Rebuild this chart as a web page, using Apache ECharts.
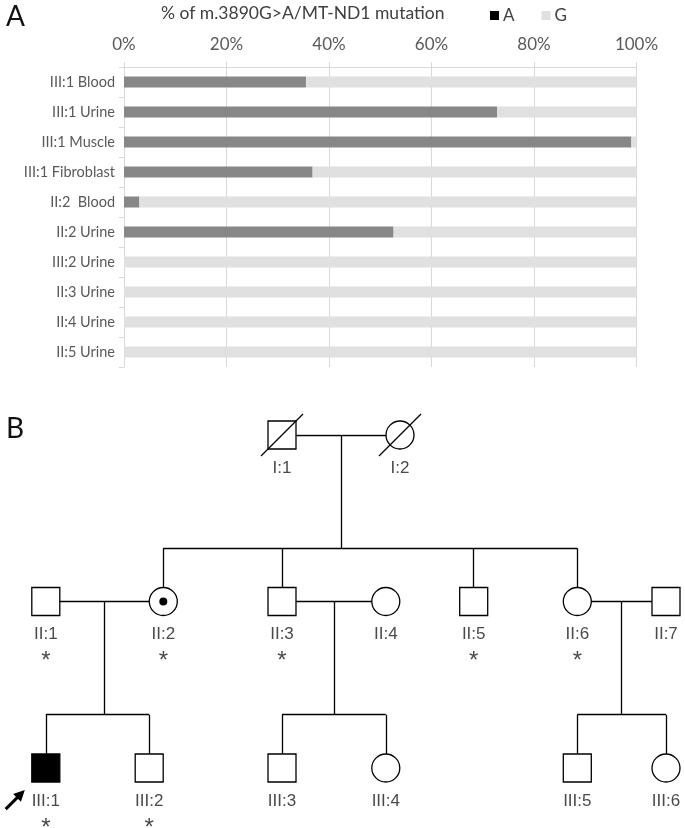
<!DOCTYPE html>
<html>
<head>
<meta charset="utf-8">
<script src="https://cdn.jsdelivr.net/npm/echarts@6/dist/echarts.min.js"></script>
<style>
  html, body { margin: 0; padding: 0; background: #fff; }
  #chart { width: 685px; height: 828px; }
</style>
</head>
<body>
<div id="chart"></div>
<script>
// panel A: heteroplasmy per sample (% of reads)
const categories = ['III:1 Blood', 'III:1 Urine', 'III:1 Muscle', 'III:1 Fibroblast', 'II:2  Blood',
                    'II:2 Urine', 'III:2 Urine', 'II:3 Urine', 'II:4 Urine', 'II:5 Urine']
const alleleA = [35.5, 72.8, 99.0, 36.8, 3.0, 52.6, 0, 0, 0, 0]
const alleleG = [64.5, 27.2, 1.0, 63.2, 97.0, 47.4, 100, 100, 100, 100]

// panel B: pedigree members
const memberIds = ['I:1', 'I:2', 'II:1', 'II:2', 'II:3', 'II:4', 'II:5', 'II:6', 'II:7',
                   'III:1', 'III:2', 'III:3', 'III:4', 'III:5', 'III:6']
const memberX = [282, 400, 45.8, 163.3, 282, 385.8, 473.7, 577.3, 666, 45.8, 149.2, 282, 385.8, 577.3, 666]
const memberGen = [1, 1, 2, 2, 2, 2, 2, 2, 2, 3, 3, 3, 3, 3, 3]
const memberSex = ['M', 'F', 'M', 'F', 'M', 'F', 'M', 'F', 'M', 'M', 'M', 'M', 'F', 'M', 'F']
const deceased = ['I:1', 'I:2']
const affected = ['III:1']
const carriers = ['II:2']
const tested = ['II:1', 'II:2', 'II:3', 'II:5', 'II:6', 'III:1', 'III:2']
const proband = 'III:1'
const couples = [['I:1', 'I:2'], ['II:1', 'II:2'], ['II:3', 'II:4'], ['II:6', 'II:7']]
const offspring = [['II:2', 'II:3', 'II:5', 'II:6'], ['III:1', 'III:2'], ['III:3', 'III:4'], ['III:5', 'III:6']]

const chart = echarts.init(document.getElementById('chart'))

const pos = id => {
    const i = memberIds.indexOf(id)
    return [memberX[i], memberGen[i]]
}

// connecting lines, built from the couples / offspring tables
const sibDrop = 0.68
const links = []
couples.forEach((c, k) => {
    const a = pos(c[0]), b = pos(c[1])
    const mid = (a[0] + b[0]) / 2
    links.push([a, b])
    links.push([[mid, a[1]], [mid, a[1] + sibDrop]])
    const kids = offspring[k].map(pos)
    const xs = kids.map(p => p[0]).concat([mid])
    links.push([[Math.min(...xs), a[1] + sibDrop], [Math.max(...xs), a[1] + sibDrop]])
    kids.forEach(p => links.push([[p[0], a[1] + sibDrop], p]))
})

const members = memberIds.map((id, i) => [memberX[i], memberGen[i], i])

function renderMember (params, api) {
    const i = api.value(2)
    const id = memberIds[i]
    const p = api.coord([api.value(0), api.value(1)])
    const r = 14
    const items = []
    const fill = affected.includes(id) ? '#000' : '#fff'
    if (memberSex[i] === 'M') {
        items.push({ type: 'rect', shape: { x: p[0] - r, y: p[1] - r, width: 2 * r, height: 2 * r },
            style: { fill: fill, stroke: '#000', lineWidth: 1.3 } })
    } else {
        items.push({ type: 'circle', shape: { cx: p[0], cy: p[1], r: r },
            style: { fill: fill, stroke: '#000', lineWidth: 1.3 } })
    }
    if (carriers.includes(id)) {
        items.push({ type: 'circle', shape: { cx: p[0], cy: p[1], r: 4 }, style: { fill: '#000' } })
    }
    if (deceased.includes(id)) {
        items.push({ type: 'line', shape: { x1: p[0] - 21, y1: p[1] + 21, x2: p[0] + 21, y2: p[1] - 21 },
            style: { stroke: '#000', lineWidth: 1.3 } })
    }
    items.push({ type: 'text', x: p[0], y: p[1] + 33,
        style: { text: id, align: 'center', verticalAlign: 'middle', fill: '#4a4a4a',
                 fontSize: 17, fontFamily: 'Liberation Sans' } })
    if (tested.includes(id)) {
        items.push({ type: 'text', x: p[0], y: p[1] + 60,
            style: { text: '*', align: 'center', verticalAlign: 'middle', fill: '#4a4a4a',
                     fontSize: 24, fontFamily: 'Liberation Sans' } })
    }
    if (id === proband) {
        const tx = p[0] - 21, ty = p[1] + 22
        const d = Math.SQRT1_2
        const bx = tx - 11 * d, by = ty + 11 * d
        items.push({ type: 'line', shape: { x1: tx - 27 * d, y1: ty + 27 * d, x2: bx + 2 * d, y2: by - 2 * d },
            style: { stroke: '#000', lineWidth: 3 } })
        items.push({ type: 'polygon',
            shape: { points: [[tx, ty], [bx - 5.5 * d, by - 5.5 * d], [bx + 5.5 * d, by + 5.5 * d]] },
            style: { fill: '#000' } })
    }
    return { type: 'group', children: items }
}

const textGrey = '#595959'
const option = {
    animation: false,
    title: [
        { text: '% of m.3890G>A/MT-ND1 mutation', left: 161, top: 4, padding: 0,
          textStyle: { fontFamily: 'Lato', fontSize: 17.5, fontWeight: 'normal', color: '#404040' } },
        { text: 'A', left: 6, top: 3, padding: 0,
          textStyle: { fontFamily: 'Lato', fontSize: 28, fontWeight: 'normal', color: '#111' } },
        { text: 'B', left: 6, top: 415, padding: 0,
          textStyle: { fontFamily: 'Lato', fontSize: 28, fontWeight: 'normal', color: '#111' } }
    ],
    legend: {
        left: 490, top: 7, padding: 0,
        icon: 'rect', itemWidth: 9, itemHeight: 9, itemGap: 27,
        data: [{ name: 'A', itemStyle: { color: '#000' } }, { name: 'G' }],
        textStyle: { fontFamily: 'Lato', fontSize: 17, color: '#404040', padding: [0, 0, 0, -1] }
    },
    grid: [
        { left: 124, right: 48.5, top: 67, height: 300 },
        { left: 0, right: 0, top: 435, bottom: 60 }
    ],
    xAxis: [
        {
            gridIndex: 0, type: 'value', position: 'top', min: 0, max: 100, interval: 20,
            axisLabel: { formatter: '{value}%', fontFamily: 'Lato', fontSize: 17, color: textGrey, margin: 14 },
            axisLine: { show: true, lineStyle: { color: '#d9d9d9' } },
            axisTick: { show: true, length: 5, lineStyle: { color: '#d9d9d9' } },
            splitLine: { lineStyle: { color: '#d9d9d9' } }
        },
        { gridIndex: 1, type: 'value', min: 0, max: 685, show: false }
    ],
    yAxis: [
        {
            gridIndex: 0, type: 'category', data: categories, inverse: true,
            axisLabel: { fontFamily: 'Lato', fontSize: 14.5, color: textGrey, margin: 9 },
            axisLine: { show: true, lineStyle: { color: '#d9d9d9' } },
            axisTick: { show: true, length: 5, lineStyle: { color: '#d9d9d9' } }
        },
        { gridIndex: 1, type: 'value', min: 1, max: 3, inverse: true, show: false }
    ],
    series: [
        { name: 'A', type: 'bar', stack: 'total', barWidth: 11, data: alleleA,
          itemStyle: { color: '#878787' } },
        { name: 'G', type: 'bar', stack: 'total', barWidth: 11, data: alleleG,
          itemStyle: { color: '#e0e0e0' } },
        {
            type: 'lines', coordinateSystem: 'cartesian2d', xAxisIndex: 1, yAxisIndex: 1,
            silent: true, z: 2, symbol: 'none',
            lineStyle: { color: '#000', width: 1.3, opacity: 1 },
            data: links.map(c => ({ coords: c }))
        },
        {
            type: 'custom', xAxisIndex: 1, yAxisIndex: 1, z: 3, silent: true,
            renderItem: renderMember, data: members
        }
    ]
}
chart.setOption(option)
</script>
</body>
</html>
